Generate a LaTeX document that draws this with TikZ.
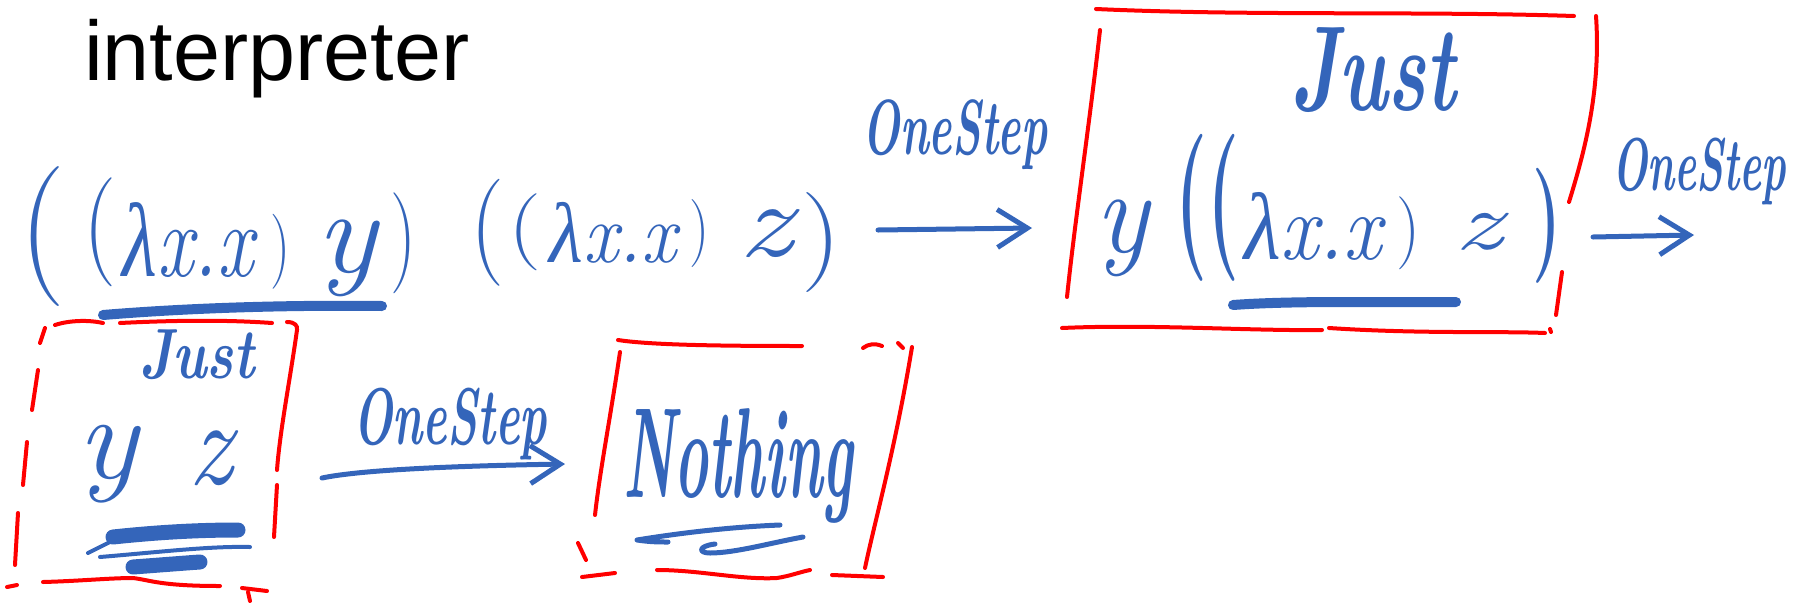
\documentclass[tikz,border=0pt]{standalone}
\usepackage{graphicx}
\usepackage{fontspec}
\newfontfamily\arialf{Liberation Sans}
\newfontfamily\grkf{Liberation Serif}
\usetikzlibrary{arrows.meta}
\definecolor{hblue}{RGB}{52,101,186}
\definecolor{hred}{RGB}{255,0,0}
\newcommand\hsz[1]{\fontsize{#1}{#1}\selectfont}
\newcommand\fitto[3]{\resizebox*{#1pt}{#2pt}{#3}}
\newcommand\lamxx{{\grkf\itshape λ}\itshape x.x}
\tikzset{
  hw/.style={text=hblue, inner sep=0pt, outer sep=0pt, font=\hsz{60}},
  hwb/.style={hw, font=\hsz{60}\bfseries},
  redstroke/.style={draw=hred, line width=4pt, line cap=round, line join=round},
  bluestroke/.style={draw=hblue, line width=5pt, line cap=round, line join=round},
  uline/.style={bluestroke, line width=10pt},
  harrow/.style={bluestroke, -{Straight Barb[length=30pt,width=38pt]}},
}
\begin{document}
\begin{tikzpicture}[x=1pt,y=-1pt]
\useasboundingbox (0,0) rectangle (1803,603);
% title
\node[anchor=base west, font=\arialf\hsz{84.5}, inner sep=0pt] (title) at (84,80) {interpreter};
% row 1 expression
\node[hw] (r1) at (43,237) {\fitto{46}{140}{(}};
\node[hw] (r2) at (100,232) {\fitto{33}{109}{(}};
\node[hw] (r3) at (188,240) {\fitto{131}{75}{\lamxx}};
\node[hw] (r4) at (280,252) {\fitto{20}{75}{)}};
\node[hw] (r5) at (346,258) {\fitto{60}{77}{\itshape y}};
\node[hw] (r6) at (403,243) {\fitto{26}{101}{)}};
\node[hw] (r7) at (487,233) {\fitto{34}{107}{(}};
\node[hw] (r8) at (525,232) {\fitto{33}{77}{(}};
\node[hw] (r9) at (613,233) {\fitto{127}{61}{\lamxx}};
\node[hw] (r10) at (699,234) {\fitto{20}{68}{)}};
\node[hw] (r11) at (765,234) {\fitto{54}{48}{\itshape z}};
\node[hw] (r12) at (821,243) {\fitto{40}{100}{)}};
\draw[uline] (103,315) .. controls (200,307) and (300,305) .. (382,306);
% arrow 1
\coordinate (a1s) at (878,230);
\coordinate (a1e) at (1032,228);
\draw[harrow] (a1s) -- (a1e);
\node[hw] (l1) at (955,135) {\fitto{185}{70}{\bfseries\itshape OneStep}};
% box 1
\draw[redstroke] (1096,9) .. controls (1250,16) and (1420,11) .. (1574,16);
\draw[redstroke] (1100,30) .. controls (1090,120) and (1075,220) .. (1067,297);
\draw[redstroke] (1596,16) .. controls (1601,90) and (1585,150) .. (1569,202);
\draw[redstroke] (1562,272) -- (1556,315);
\draw[redstroke] (1550,329) -- (1551,332);
\draw[redstroke] (1062,328) .. controls (1150,324) and (1250,331) .. (1322,330);
\draw[redstroke] (1329,328) .. controls (1420,334) and (1500,331) .. (1545,333);
\node[hw] (j1) at (1373,70) {\fitto{166}{85}{\bfseries\itshape Just}};
\node[hw] (b1) at (1122,238) {\fitto{53}{77}{\itshape y}};
\node[hwb] (b2) at (1207,208) {\fitto{64}{147}{((}};
\node[hw] (b4) at (1313,226) {\fitto{138}{68}{\lamxx}};
\node[hw] (b5) at (1408,233) {\fitto{24}{73}{)}};
\node[hw] (b6) at (1478,232) {\fitto{48}{37}{\itshape z}};
\node[hwb] (b7) at (1547,226) {\fitto{29}{115}{)}};
\draw[uline] (1233,305) .. controls (1300,300) and (1400,303) .. (1456,302);
% arrow 2
\coordinate (a2s) at (1593,237);
\coordinate (a2e) at (1694,235);
\draw[harrow] (a2s) -- (a2e);
\node[hw] (l2) at (1699,171) {\fitto{174}{67}{\bfseries\itshape OneStep}};
% box 2
\draw[redstroke] (55,325) .. controls (70,320) and (90,320) .. (103,323);
\draw[redstroke] (120,323) .. controls (180,320) and (230,320) .. (272,323);
\draw[redstroke] (287,322) .. controls (295,322) and (298,326) .. (297,330);
\draw[redstroke] (297,330) .. controls (290,380) and (280,430) .. (277,470);
\draw[redstroke] (277,485) -- (274,537);
\draw[redstroke] (45,328) -- (40,343);
\draw[redstroke] (38,370) -- (32,410);
\draw[redstroke] (27,442) -- (23,485);
\draw[redstroke] (18,513) -- (15,565);
\draw[redstroke] (7,587) -- (17,585);
\draw[redstroke] (43,582) .. controls (80,581) and (110,578) .. (133,578) .. controls (150,580) and (160,586) .. (220,586);
\draw[redstroke] (242,588) -- (267,591);
\draw[redstroke] (248,592) -- (250,601);
\node[hw] (j2) at (197,355) {\fitto{116}{50}{\bfseries\itshape Just}};
\node[hw] (c1) at (107,464) {\fitto{60}{78}{\itshape y}};
\node[hw] (c2) at (210,458) {\fitto{44}{55}{\itshape z}};
\draw[bluestroke, line width=15pt] (113,537) .. controls (160,532) and (200,530) .. (238,530);
\draw[bluestroke, line width=4pt] (88,553) -- (112,541);
\draw[bluestroke, line width=4pt] (100,557) .. controls (160,552) and (210,546) .. (250,547);
\draw[bluestroke, line width=15pt] (133,567) .. controls (160,565) and (185,563) .. (200,562);
% arrow 3
\coordinate (a3s) at (322,478);
\coordinate (a3e) at (565,464);
\draw[harrow] (a3s) .. controls (360,470) and (450,466) .. (a3e);
\node[hw] (l3) at (450,424) {\fitto{194}{72}{\bfseries\itshape OneStep}};
% box 3
\draw[redstroke] (618,340) .. controls (650,345) and (720,346) .. (802,346);
\draw[redstroke] (863,348) .. controls (868,344) and (875,343) .. (882,346);
\draw[redstroke] (898,343) -- (903,348);
\draw[redstroke] (620,352) .. controls (610,420) and (600,470) .. (595,515);
\draw[redstroke] (912,347) .. controls (895,450) and (875,520) .. (865,568);
\draw[redstroke] (578,543) -- (586,560);
\draw[redstroke] (582,577) -- (615,573);
\draw[redstroke] (657,570) .. controls (700,570) and (740,580) .. (777,578) .. controls (790,576) and (800,572) .. (810,570);
\draw[redstroke] (832,575) -- (883,577);
\node[hw] (n1) at (738,466) {\fitto{230}{115}{\bfseries\itshape Nothing}};
\draw[bluestroke] (780,525) .. controls (730,527) and (680,533) .. (637,540) .. controls (650,542) and (660,542) .. (668,542);
\draw[bluestroke] (803,537) .. controls (770,543) and (735,553) .. (710,553) .. controls (698,553) and (698,546) .. (715,544);
\end{tikzpicture}
\end{document}
